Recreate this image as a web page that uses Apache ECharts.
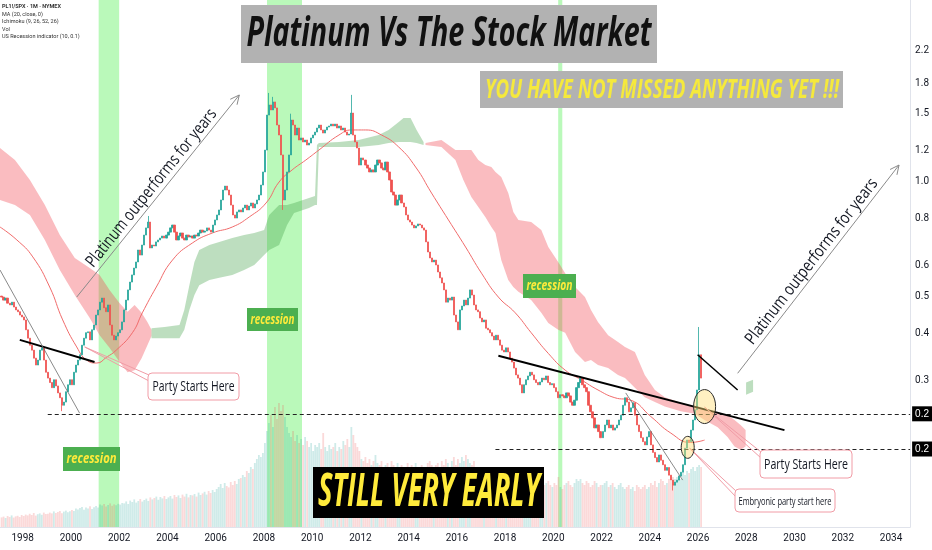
<!DOCTYPE html>
<html>
<head>
<meta charset="utf-8">
<title>Platinum Vs The Stock Market</title>
<script src="https://cdn.jsdelivr.net/npm/echarts@6.0.0/dist/echarts.min.js"></script>
<style>
  html, body { margin: 0; padding: 0; background: #fff; }
  #container { width: 932px; height: 550px; }
</style>
</head>
<body>
<div id="container"></div>
<script>
/* PL1!/SPX monthly closes, Feb 1997 .. Feb 2026, one row per year */
var startYear = 1997, startMonth = 2;
var firstOpen = 0.500;
var closes = [
  0.497,0.488,0.494,0.479,0.474,0.482,0.468,0.460,0.455,0.446,0.441,
  0.433,0.408,0.388,0.372,0.361,0.344,0.330,0.340,0.361,0.366,0.340,0.316,
  0.305,0.297,0.288,0.302,0.291,0.279,0.271,0.259,0.264,0.281,0.293,0.302,
  0.293,0.316,0.330,0.340,0.351,0.372,0.388,0.401,0.403,0.384,0.408,0.420,
  0.446,0.460,0.482,0.494,0.466,0.455,0.474,0.420,0.395,0.384,0.393,0.401,
  0.408,0.428,0.460,0.488,0.519,0.544,0.568,0.592,0.614,0.660,0.640,0.680,
  0.722,0.754,0.781,0.668,0.680,0.676,0.693,0.701,0.709,0.718,0.709,0.722,
  0.735,0.754,0.767,0.735,0.701,0.718,0.731,0.709,0.701,0.722,0.714,0.718,
  0.709,0.722,0.718,0.731,0.744,0.735,0.740,0.754,0.744,0.735,0.767,0.791,
  0.815,0.840,0.892,0.947,0.970,0.947,0.919,0.865,0.815,0.800,0.830,0.840,
  0.830,0.850,0.865,0.840,0.860,0.876,0.850,0.871,0.892,0.919,0.976,1.056,
  1.205,1.488,1.581,1.534,1.610,1.553,1.401,1.319,1.170,0.892,0.947,1.056,
  1.170,1.444,1.401,1.319,1.376,1.280,1.296,1.265,1.280,1.242,1.257,1.296,
  1.319,1.343,1.376,1.401,1.360,1.335,1.360,1.384,1.393,1.409,1.393,1.409,
  1.376,1.393,1.360,1.376,1.343,1.319,1.327,1.506,1.319,1.265,1.220,1.101,
  1.149,1.135,1.101,1.081,1.056,1.069,1.056,1.101,1.135,1.115,1.081,1.069,
  1.121,1.056,1.006,0.936,0.919,0.865,0.892,0.919,0.876,0.855,0.815,0.791,
  0.781,0.767,0.754,0.763,0.772,0.767,0.754,0.744,0.693,0.652,0.629,0.614,
  0.621,0.603,0.578,0.558,0.541,0.519,0.482,0.494,0.488,0.497,0.446,0.428,
  0.408,0.460,0.471,0.488,0.474,0.494,0.519,0.503,0.474,0.460,0.455,0.438,
  0.428,0.433,0.412,0.408,0.401,0.393,0.384,0.395,0.384,0.372,0.361,0.357,
  0.366,0.357,0.344,0.336,0.324,0.311,0.305,0.293,0.279,0.293,0.302,0.309,
  0.316,0.311,0.302,0.297,0.293,0.298,0.305,0.302,0.309,0.297,0.293,0.295,
  0.288,0.281,0.271,0.276,0.274,0.271,0.279,0.274,0.264,0.259,0.267,0.288,
  0.297,0.305,0.293,0.288,0.281,0.259,0.249,0.240,0.226,0.230,0.221,0.213,
  0.221,0.230,0.237,0.226,0.230,0.223,0.226,0.230,0.237,0.244,0.259,0.271,
  0.264,0.249,0.255,0.263,0.244,0.230,0.221,0.213,0.208,0.204,0.214,0.221,
  0.204,0.195,0.189,0.184,0.192,0.186,0.181,0.175,0.178,0.170,0.165,0.160,
  0.163,0.165,0.169,0.173,0.181,0.200,0.210,0.208,0.223,0.237,0.252,0.284,
  0.351,0.305
];
// [year, month, price] for the longer wicks
var wickHighs = [[2003,3,0.81],[2008,3,1.70],[2008,5,1.66],[2009,2,1.50],[2011,8,1.68],[2026,1,0.415]];
var wickLows = [[1999,8,0.250],[2008,10,0.84],[2024,12,0.155]];

/* Volume, same months */
var volumes = [
  48,52,45,55,50,58,47,53,56,50,60,
  55,62,58,66,60,70,57,64,68,61,72,65,
  66,72,68,78,70,75,80,69,77,82,74,79,
  85,80,92,88,95,100,86,98,93,104,90,99,
  105,98,112,108,115,102,110,118,106,113,109,116,
  112,120,118,128,115,132,125,138,122,130,140,127,
  135,142,130,148,138,145,152,136,150,143,155,140,
  148,155,142,160,150,158,145,162,152,166,148,160,
  158,165,152,172,160,168,176,162,180,170,185,175,
  190,200,215,195,220,205,198,225,210,230,215,240,
  245,260,250,280,270,300,290,320,340,360,350,370,
  420,480,520,560,500,600,540,620,580,610,550,500,
  470,450,480,430,460,420,440,410,450,430,400,420,
  380,410,400,420,390,470,400,380,410,390,400,420,
  380,400,390,430,410,440,400,500,460,420,400,380,
  340,330,350,320,340,310,330,360,320,310,330,300,
  310,320,300,330,310,290,320,300,310,290,300,320,
  300,310,290,320,300,280,310,300,290,320,330,310,
  300,310,320,300,330,310,340,320,300,330,350,310,
  340,320,350,330,360,340,320,310,330,300,290,280,
  240,230,250,220,240,230,220,210,230,240,220,210,
  230,220,240,210,230,220,210,230,240,220,210,200,
  210,220,200,230,210,220,200,210,220,230,210,200,
  220,210,250,200,190,210,220,230,210,200,220,240,
  230,240,220,210,230,220,200,210,230,220,200,210,
  210,220,230,200,210,220,200,190,210,220,200,190,
  200,210,190,200,180,210,200,190,200,210,190,200,
  220,210,230,200,220,240,230,210,220,240,230,250,
  240,250,260,240,270,260,280,270,290,300,280,300,
  310,300
];

/* Moving average, [year, value] */
var maLine = [
  [1997.06,0.758],[1997.76,0.701],[1998.42,0.633],[1999.12,0.528],[1999.66,0.433],
  [2000.24,0.368],[2000.65,0.340],[2001.07,0.334],[2001.48,0.346],[2001.88,0.361],
  [2002.55,0.401],[2002.96,0.452],[2003.54,0.528],[2004.21,0.621],[2005.03,0.688],
  [2005.86,0.731],[2006.69,0.758],[2007.39,0.805],[2008.09,0.876],[2008.63,0.994],
  [2009.17,1.069],[2009.74,1.135],[2010.28,1.205],[2011.11,1.319],[2011.64,1.360],
  [2012.22,1.360],[2012.88,1.319],[2013.59,1.227],[2014.29,1.088],[2014.95,0.930],
  [2015.65,0.791],[2016.36,0.672],[2017.02,0.574],[2017.72,0.497],[2018.42,0.452],
  [2019.08,0.401],[2019.79,0.354],[2020.49,0.320],[2021.15,0.302],[2021.85,0.284],
  [2022.55,0.271],[2023.21,0.267],[2024.04,0.242],[2024.87,0.219],[2025.69,0.207],
  [2026.27,0.210]
];

/* Ichimoku cloud, [year, upper, lower] */
var cloudRed1 = [
  [1997.06,1.220,0.892],[1997.68,1.135,0.865],[1998.30,1.006,0.815],[1998.92,0.865,0.701],
  [1999.54,0.722,0.585],[2000.16,0.629,0.503],[2000.78,0.592,0.438],[2001.19,0.568,0.395],
  [2001.60,0.519,0.366],[2002.02,0.479,0.336],[2002.35,0.455,0.316],[2002.64,0.474,0.320],
  [2002.93,0.452,0.344],[2003.17,0.428,0.372],[2003.34,0.408,0.393]
];
var cloudGreen1 = [
  [2003.34,0.412,0.388],[2003.88,0.415,0.388],[2004.50,0.420,0.388],[2004.70,0.460,0.408],
  [2004.91,0.534,0.460],[2005.12,0.614,0.503],[2005.32,0.660,0.534],[2005.74,0.680,0.551],
  [2006.15,0.693,0.558],[2006.69,0.709,0.568],[2007.18,0.722,0.585],[2007.60,0.731,0.603],
  [2008.01,0.744,0.640],[2008.22,0.815,0.660],[2008.63,0.865,0.680],[2008.96,0.865,0.767],
  [2009.25,0.876,0.825],[2009.87,0.903,0.850],[2010.12,0.914,0.865],[2010.20,1.242,0.865],
  [2010.28,1.257,1.227],[2011.11,1.265,1.227],[2011.93,1.280,1.227],[2012.76,1.319,1.242],
  [2013.17,1.360,1.257],[2013.59,1.427,1.265],[2013.79,1.462,1.265],[2014.08,1.462,1.265],
  [2014.33,1.360,1.257],[2014.62,1.265,1.242]
];
var cloudRed2 = [
  [2014.70,1.257,1.242],[2015.36,1.280,1.227],[2015.94,1.205,1.135],[2016.27,1.205,1.006],
  [2016.60,1.205,0.908],[2016.89,1.135,0.855],[2017.18,1.101,0.805],[2017.43,1.088,0.758],
  [2017.60,1.056,0.731],[2017.84,1.024,0.621],[2018.13,0.930,0.551],[2018.34,0.830,0.528],
  [2018.55,0.791,0.513],[2019.08,0.781,0.488],[2019.50,0.744,0.452],[2019.79,0.672,0.425],
  [2020.20,0.614,0.408],[2020.49,0.574,0.401],[2020.90,0.528,0.357],[2021.31,0.497,0.336],
  [2021.56,0.460,0.340],[2021.85,0.428,0.330],[2022.27,0.395,0.324],[2022.68,0.379,0.311],
  [2022.97,0.368,0.305],[2023.38,0.357,0.288],[2023.79,0.311,0.272],[2024.21,0.284,0.264],
  [2024.62,0.272,0.257],[2025.28,0.263,0.250],[2025.86,0.257,0.246],[2026.27,0.252,0.237],
  [2026.81,0.247,0.227],[2027.22,0.244,0.214],[2027.51,0.237,0.202],[2027.76,0.230,0.198],
  [2027.97,0.223,0.202]
];
var cloudGreen2 = [[2027.99,0.297,0.276],[2028.28,0.302,0.281]];

/* US recessions, [start, end] */
var recessions = [[2001.15, 2002.0], [2008.13, 2009.58], [2020.2, 2020.37]];

/* Axis ticks */
var yearTicks = [1998,2000,2002,2004,2006,2008,2010,2012,2014,2016,2018,2020,2022,2024,2026,2028,2030,2032,2034];
var priceTicks = [2.2, 1.8, 1.5, 1.2, 1.0, 0.8, 0.6, 0.5, 0.4, 0.3];

/* Horizontal levels, [from year, price] */
var levels = [[1999.04, 0.246], [2017.60, 0.199]];


var L = Math.log;
var xMin = 1997.06, xMax = 2034.79;
var yMin = -2.0843, yMax = 1.0904;

function monthIndex(y, m) { return (y - startYear) * 12 + m - startMonth; }
function monthTime(i) { return startYear + (startMonth - 1 + i) / 12 + 1 / 24; }

/* Build candles and volume from the arrays */
var hi = {}, lo = {};
wickHighs.forEach(function (w) { hi[monthIndex(w[0], w[1])] = w[2]; });
wickLows.forEach(function (w) { lo[monthIndex(w[0], w[1])] = w[2]; });

var candleData = [], volData = [];
closes.forEach(function (c, i) {
  var o = i === 0 ? firstOpen : closes[i - 1];
  var h = Math.max(o, c, hi[i] || 0);
  var l = Math.min(o, c, lo[i] || 99);
  var t = monthTime(i);
  candleData.push([t, L(o), L(c), L(l), L(h)]);
  volData.push({
    value: [t, volumes[i]],
    itemStyle: { color: c >= o ? 'rgba(38,166,154,0.22)' : 'rgba(239,83,80,0.22)' }
  });
});

var cloudSegments = [
  { pts: cloudRed1, color: 'rgba(242,70,80,0.36)' },
  { pts: cloudGreen1, color: 'rgba(67,160,71,0.35)' },
  { pts: cloudRed2, color: 'rgba(242,70,80,0.36)' },
  { pts: cloudGreen2, color: 'rgba(67,160,71,0.35)' }
];

var dom = document.getElementById('container');
var chart = echarts.init(dom, null, { renderer: 'canvas' });

var option = {
  animation: false,
  backgroundColor: '#ffffff',
  grid: { left: 0, right: 19, top: 0, bottom: 23 },
  xAxis: {
    type: 'value', min: xMin, max: xMax,
    axisLine: { show: true, onZero: false, lineStyle: { color: '#e0e3eb' } },
    axisTick: { show: false },
    splitLine: { show: false },
    axisLabel: {
      customValues: yearTicks, margin: 6,
      color: '#131722', fontSize: 10,
      fontFamily: "'Liberation Sans Narrow', Roboto, sans-serif",
      formatter: function (v) { return String(v); }
    }
  },
  yAxis: [{
    type: 'value', position: 'right', min: yMin, max: yMax,
    axisLine: { show: true, onZero: false, lineStyle: { color: '#e0e3eb' } },
    axisTick: { show: false },
    splitLine: { show: false },
    axisLabel: {
      customValues: priceTicks.map(L), margin: 5,
      color: '#131722', fontSize: 10,
      fontFamily: "'Liberation Sans Narrow', Roboto, sans-serif",
      formatter: function (v) { return Math.exp(v).toFixed(1); }
    }
  }, {
    type: 'value', min: 0, max: 2635, show: false
  }],
  series: [{
    name: 'Vol', type: 'bar', yAxisIndex: 1, z: 1,
    barWidth: 1.8, data: volData, silent: true,
    markArea: {
      silent: true,
      itemStyle: { color: 'rgba(90,240,90,0.42)' },
      data: recessions.map(function (r) { return [{ xAxis: r[0] }, { xAxis: r[1] }]; })
    }
  }, {
    name: 'Ichimoku', type: 'custom', z: 2, silent: true,
    data: cloudSegments.map(function (s, i) { return [s.pts[0][0], L(s.pts[0][1]), i]; }),
    encode: { x: 0, y: 1 },
    renderItem: function (params, api) {
      var seg = cloudSegments[api.value(2)];
      var top = seg.pts.map(function (p) { return api.coord([p[0], L(p[1])]); });
      var bot = seg.pts.slice().reverse().map(function (p) { return api.coord([p[0], L(p[2])]); });
      return { type: 'polygon', shape: { points: top.concat(bot) }, style: { fill: seg.color } };
    }
  }, {
    name: 'MA', type: 'line', z: 3, smooth: true, symbol: 'none', silent: true,
    lineStyle: { color: '#f06b6b', width: 1 },
    data: maLine.map(function (p) { return [p[0], L(p[1])]; })
  }, {
    name: 'PL1!/SPX', type: 'candlestick', z: 4,
    encode: { x: 0, y: [1, 2, 3, 4] },
    barWidth: 1.7,
    itemStyle: {
      color: '#26a69a', color0: '#ef5350',
      borderColor: '#26a69a', borderColor0: '#ef5350', borderWidth: 0.8
    },
    data: candleData,
    markLine: {
      silent: true, symbol: ['none', 'none'],
      lineStyle: { color: '#222', width: 1, type: [4, 3] },
      label: {
        position: 'end', distance: 2, formatter: '0.2',
        backgroundColor: '#000', color: '#fff', fontSize: 10,
        padding: [3, 3, 2, 3]
      },
      data: levels.map(function (lv) {
        return [{ coord: [lv[0], L(lv[1])] }, { coord: [xMax, L(lv[1])] }];
      })
    }
  }]
};
chart.setOption(option);


/* Drawings on top of the chart */
var measureCtx = document.createElement('canvas').getContext('2d');
var NARROW = "'Open Sans', sans-serif";

function px(t, v) {
  return chart.convertToPixel({ xAxisIndex: 0, yAxisIndex: 0 }, [t, L(v)]);
}

function fitText(o) {
  var font = (o.italic ? 'italic ' : '') + (o.bold ? 'bold ' : '') + o.size + 'px ' + (o.family || NARROW);
  measureCtx.font = font;
  var w = measureCtx.measureText(o.text).width;
  return {
    type: 'text', x: o.x, y: o.y, rotation: o.rotation || 0,
    scaleX: o.width / w, z: 120, silent: true,
    style: {
      text: o.text, font: font, fill: o.color || '#131722',
      align: 'center', verticalAlign: 'middle',
      textAlign: 'center', textVerticalAlign: 'middle'
    }
  };
}

function box(x, y, w, h, fill, stroke, r) {
  return {
    type: 'rect', z: 110, silent: true,
    shape: { x: x, y: y, width: w, height: h, r: r || 0 },
    style: { fill: fill, stroke: stroke || null, lineWidth: stroke ? 1 : 0 }
  };
}

function seg(a, b, color, width) {
  return {
    type: 'line', z: 105, silent: true,
    shape: { x1: a[0], y1: a[1], x2: b[0], y2: b[1] },
    style: { stroke: color, lineWidth: width }
  };
}

var g = [];

// trend lines
var trendLines = [
  { a: [1997.88, 0.384], b: [2000.98, 0.336], color: '#000', w: 2 },
  { a: [2017.72, 0.349], b: [2029.58, 0.223], color: '#000', w: 2 },
  { a: [2025.98, 0.351], b: [2027.64, 0.284], color: '#000', w: 1.5 },
  { a: [1997.06, 0.585], b: [2000.36, 0.247], color: '#6b6b6b', w: 0.8 },
  { a: [2023.00, 0.279], b: [2025.36, 0.165], color: '#6b6b6b', w: 0.8 }
];
trendLines.forEach(function (tl) {
  g.push(seg(px(tl.a[0], tl.a[1]), px(tl.b[0], tl.b[1]), tl.color, tl.w));
});

// arrows with their captions
var arrows = [
  { a: [2000.24, 0.497], b: [2006.98, 1.679], width: 198 },
  { a: [2027.64, 0.314], b: [2034.33, 1.101], width: 205 }
];
arrows.forEach(function (ar) {
  var p1 = px(ar.a[0], ar.a[1]), p2 = px(ar.b[0], ar.b[1]);
  var dx = p2[0] - p1[0], dy = p2[1] - p1[1];
  var len = Math.sqrt(dx * dx + dy * dy);
  var ux = dx / len, uy = dy / len;
  g.push(seg(p1, p2, '#8a8a8a', 1));
  [0.45, -0.45].forEach(function (ang) {
    var c = Math.cos(ang), s = Math.sin(ang);
    var hx = -(ux * c - uy * s) * 10, hy = -(ux * s + uy * c) * 10;
    g.push(seg(p2, [p2[0] + hx, p2[1] + hy], '#8a8a8a', 1));
  });
  // normal pointing up-left
  var nx = uy, ny = -ux;
  var mx = (p1[0] + p2[0]) / 2 + nx * 10 + ux * 2;
  var my = (p1[1] + p2[1]) / 2 + ny * 10 + uy * 2;
  g.push(fitText({
    text: 'Platinum outperforms for years', x: mx, y: my,
    rotation: Math.atan2(-dy, dx), size: 17, width: ar.width, color: '#131722'
  }));
});

// recession bars labels
[[63, 447, 57, 24], [247, 308, 51, 23], [523, 274, 53, 24]].forEach(function (r) {
  g.push(box(r[0], r[1], r[2], r[3], '#4caf50'));
  g.push(fitText({
    text: 'recession', x: r[0] + r[2] / 2, y: r[1] + r[3] / 2,
    size: 15, bold: true, italic: true, width: r[2] - 7, color: '#ffeb3b'
  }));
});

// call-outs
var callouts = [
  { at: [2000.57, 0.368], box: [148, 373, 91, 27], text: 'Party Starts Here', size: 14, width: 82 },
  { at: [2026.27, 0.256], box: [760, 450, 92, 28], text: 'Party Starts Here', size: 15, width: 84 },
  { at: [2025.65, 0.200], box: [735, 489, 100, 23], text: 'Embryonic party start here', size: 11, width: 93 }
];
callouts.forEach(function (co) {
  var p = px(co.at[0], co.at[1]);
  var b = co.box;
  g.push(seg(p, [b[0] + 1, b[1] + 2], '#f19ca6', 1));
  g.push(seg(p, [b[0] + 1, b[1] + 8], '#f19ca6', 1));
  g.push(box(b[0], b[1], b[2], b[3], '#ffffff', '#f19ca6', 4));
  g.push(fitText({
    text: co.text, x: b[0] + b[2] / 2, y: b[1] + b[3] / 2 + 1,
    size: co.size, width: co.width, color: '#131722'
  }));
});

// circles
var circles = [
  { at: [2026.27, 0.257], rx: 11, ry: 17 },
  { at: [2025.57, 0.201], rx: 6.5, ry: 11 }
];
circles.forEach(function (ci) {
  var p = px(ci.at[0], ci.at[1]);
  g.push({
    type: 'ellipse', z: 108, silent: true,
    shape: { cx: p[0], cy: p[1], rx: ci.rx, ry: ci.ry },
    style: { fill: 'rgba(255,222,120,0.45)', stroke: '#2b2b2b', lineWidth: 1 }
  });
});

// headline boxes
g.push(box(241, 5, 416, 58, '#b2b2b2'));
g.push(fitText({
  text: 'Platinum Vs The Stock Market', x: 449, y: 34,
  size: 42, bold: true, italic: true, width: 405, color: '#111111'
}));
g.push(box(480, 71, 363, 37, '#b2b2b2'));
g.push(fitText({
  text: 'YOU HAVE NOT MISSED ANYTHING YET !!!', x: 662, y: 90,
  size: 27, italic: true, bold: true, width: 354, color: '#f5e93c'
}));
g.push(box(313, 467, 231, 51, '#000000'));
g.push(fitText({
  text: 'STILL VERY EARLY', x: 429, y: 493,
  size: 46, bold: true, italic: true, width: 222, color: '#ffeb3b'
}));

// indicator legend, top left
['PL1!/SPX · 1M · NYMEX', 'MA (20, close, 0)', 'Ichimoku (9, 26, 52, 26)', 'Vol', 'US Recession indicator (10, 0.1)']
  .forEach(function (s, i) {
    g.push({
      type: 'text', x: 2, y: 7 + i * 7.5, z: 120, silent: true,
      style: {
        text: s, font: (i === 0 ? 'bold ' : '') + '5.5px Roboto, sans-serif', fill: '#333',
        align: 'left', verticalAlign: 'middle', textAlign: 'left', textVerticalAlign: 'middle'
      }
    });
  });

chart.setOption({ graphic: { elements: g } });
</script>
</body>
</html>
